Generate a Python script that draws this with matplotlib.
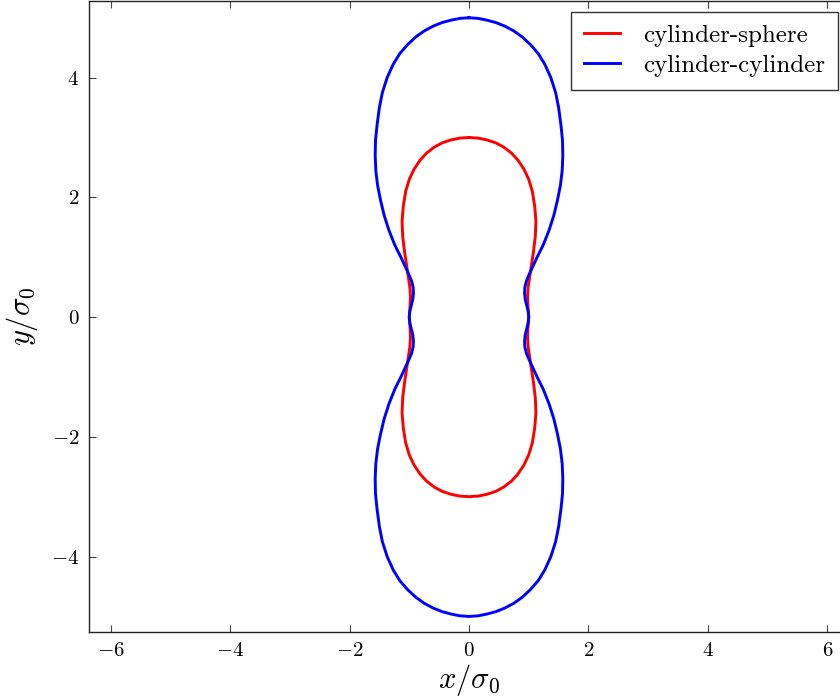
import matplotlib
matplotlib.use("Agg")
import matplotlib.pyplot as plt
import numpy as np

plt.rcParams["font.family"] = ["cmr10", "DejaVu Serif"]
plt.rcParams["mathtext.fontset"] = "cm"
plt.rcParams["axes.formatter.use_mathtext"] = True
plt.rcParams["axes.unicode_minus"] = True

# Upper-right quarter of each contact outline: height y and half-width x.
# Both outlines are symmetric about the x and y axes.
y_sphere = [3.00, 2.99, 2.96, 2.91, 2.84, 2.74, 2.62, 2.47, 2.30, 2.10, 1.85, 1.60, 1.35,
            1.10, 0.90, 0.70, 0.50, 0.35, 0.20, 0.00]
x_sphere = [0.00, 0.15, 0.30, 0.45, 0.58, 0.71, 0.82, 0.92, 1.00, 1.06, 1.10, 1.12, 1.11,
            1.08, 1.05, 1.02, 0.99, 0.98, 0.985, 1.00]

y_cyl = [5.00, 4.99, 4.96, 4.92, 4.86, 4.78, 4.68, 4.55, 4.40, 4.22, 4.00, 3.75, 3.50, 3.20,
         2.95, 2.70, 2.45, 2.20, 1.95, 1.70, 1.45, 1.20, 1.00, 0.85, 0.72, 0.60, 0.50, 0.40,
         0.30, 0.20, 0.10, 0.00]
x_cyl = [0.00, 0.15, 0.30, 0.45, 0.60, 0.75, 0.89, 1.03, 1.16, 1.27, 1.37, 1.45, 1.50, 1.54,
         1.565, 1.57, 1.56, 1.53, 1.48, 1.42, 1.34, 1.24, 1.14, 1.07, 1.01, 0.96, 0.935, 0.93,
         0.94, 0.965, 0.99, 1.00]

series_labels = ["cylinder-sphere", "cylinder-cylinder"]
series_colors = ["red", "blue"]

x_ticks = [-6, -4, -2, 0, 2, 4, 6]
y_ticks = [-4, -2, 0, 2, 4]


def outline(ys, xs):
    """Close a quarter profile into the full outline by reflection."""
    ys = np.asarray(ys, dtype=float)
    xs = np.asarray(xs, dtype=float)
    # right side: top -> bottom
    ry = np.concatenate([ys, -ys[::-1][1:]])
    rx = np.concatenate([xs, xs[::-1][1:]])
    # left side: bottom -> top
    return np.concatenate([rx, -rx[::-1][1:]]), np.concatenate([ry, ry[::-1][1:]])


fig = plt.figure(figsize=(8.4, 7.0), dpi=100)
ax = fig.add_axes([89 / 840, 68 / 700, 760 / 840, 631 / 700])

for (ys, xs), lab, col in zip([(y_sphere, x_sphere), (y_cyl, x_cyl)], series_labels, series_colors):
    px, py = outline(ys, xs)
    ax.plot(px, py, color=col, lw=2.1, label=lab, solid_joinstyle="round")

ax.set_xlim(-6.36, 6.36)
ax.set_ylim(-5.26, 5.28)
ax.set_xticks(x_ticks)
ax.set_yticks(y_ticks)
ax.tick_params(direction="in", length=5, width=0.8, top=True, right=True, labelsize=15, pad=7,
               color="#444444")
for s in ax.spines.values():
    s.set_linewidth(1.0)
    s.set_color("#222222")

ax.set_xlabel(r"$x/\sigma_0$", fontsize=22, labelpad=2)
ax.set_ylabel(r"$y/\sigma_0$", fontsize=22, labelpad=8)

leg = ax.legend(loc="upper right", bbox_to_anchor=(838 / 840, 688 / 700), bbox_transform=fig.transFigure,
                fontsize=18, frameon=True, fancybox=False, borderaxespad=0, handlelength=1.45,
                borderpad=0.5, labelspacing=0.3, handletextpad=0.95)
leg.get_frame().set_edgecolor("black")
leg.get_frame().set_linewidth(1.0)

fig.savefig("out.png", dpi=100)
